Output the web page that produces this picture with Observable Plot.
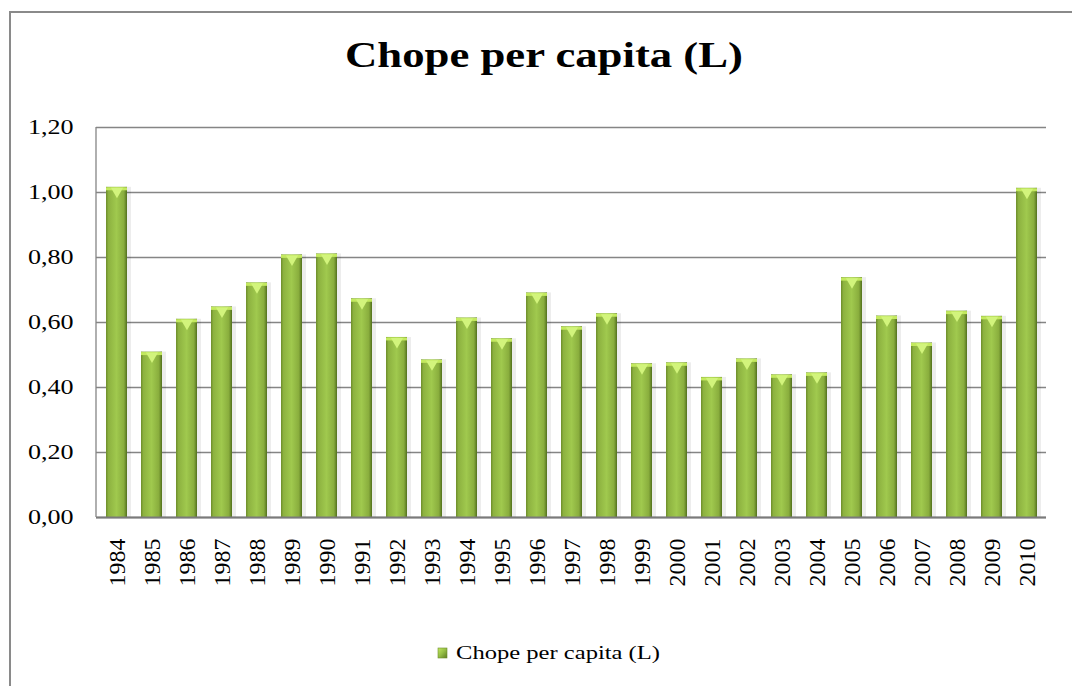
<!DOCTYPE html>
<html><head><meta charset="utf-8">
<script src="https://cdn.jsdelivr.net/npm/d3@7"></script>
<script src="https://cdn.jsdelivr.net/npm/@observablehq/plot@0.6"></script>
<style>
body{margin:0;background:#fff;}
#wrap{position:relative;width:1072px;height:686px;overflow:hidden;font-family:"Liberation Serif","Times New Roman",serif;background:#fff;}
#frame{position:absolute;left:9px;top:11px;width:1100px;height:700px;border-left:2px solid #8a8a8a;border-top:2px solid #8a8a8a;}
#wrap svg{position:absolute;left:0;}
</style></head><body>
<div id="wrap"><div id="frame"></div></div>
<script>
const years = [1984,1985,1986,1987,1988,1989,1990,1991,1992,1993,1994,1995,1996,1997,1998,1999,2000,2001,2002,2003,2004,2005,2006,2007,2008,2009,2010];
const values = [1.016,0.509,0.610,0.648,0.722,0.808,0.811,0.673,0.554,0.485,0.614,0.550,0.691,0.587,0.627,0.473,0.476,0.431,0.488,0.439,0.445,0.738,0.620,0.537,0.635,0.619,1.013];
const yTicks = [0,0.2,0.4,0.6,0.8,1.0,1.2];
const titleText = "Chope per capita (L)";
const seriesName = "Chope per capita (L)";

const data = years.map((y,i)=>({year:String(y), value:values[i]}));
const fmt = d => d.toFixed(2).replace(".", ",");
const serif = '"Liberation Serif","Times New Roman",serif';

const chart = Plot.plot({
  width:1072, height:600,
  marginTop:127, marginBottom:83, marginLeft:96, marginRight:26,
  style:{fontFamily:serif, fontSize:"20px", color:"#000", background:"transparent", overflow:"visible"},
  x:{domain:data.map(d=>d.year), paddingInner:0.4, paddingOuter:0.2, label:null},
  y:{domain:[0,1.2], label:null},
  marks:[
    Plot.gridY(yTicks,{stroke:"#858585", strokeOpacity:1, strokeWidth:1.3}),
    Plot.barY(data,{x:"year", y:"value", fill:"#000", fillOpacity:0.07, dx:4}),
    Plot.barY(data,{x:"year", y:"value", fill:"url(#barGrad)"}),
    Plot.tickY(data,{x:"year", y:"value", stroke:"#c3e95f", strokeWidth:3, dy:1.5}),
    Plot.dot(data,{x:"year", y:"value", symbol:"triangle", r:4.5, rotate:180, fill:"#d2f47c", stroke:null, dy:4}),
    Plot.ruleY([0],{stroke:"#7a7a7a", strokeWidth:2}),
    Plot.axisY({ticks:yTicks, tickFormat:fmt, tickSize:0, tickPadding:23, fontSize:20.5, label:null}),
    Plot.axisX({tickRotate:-90, tickSize:0, tickPadding:21, fontSize:24, label:null})
  ]
});
chart.style.top = "0px";
const wrap = document.getElementById("wrap");
wrap.appendChild(chart);

const svg = d3.select(chart);
svg.insert("defs",":first-child").html(`
<linearGradient id="barGrad" x1="0" x2="1" y1="0" y2="0">
  <stop offset="0" stop-color="#6d8d2b"/>
  <stop offset="0.12" stop-color="#8db240"/>
  <stop offset="0.5" stop-color="#a0c94e"/>
  <stop offset="0.85" stop-color="#89ad3d"/>
  <stop offset="1" stop-color="#52701d"/>
</linearGradient>`);
// left axis line of the plot frame
const ys = chart.scale("y");
svg.append("line").attr("x1",96).attr("x2",96)
  .attr("y1",ys.apply(1.2)).attr("y2",ys.apply(0))
  .attr("stroke","#858585").attr("stroke-width",1.3);

// horizontally stretched y tick labels
svg.selectAll('g[aria-label="y-axis tick label"] text').each(function(){
  const w = this.getComputedTextLength();
  this.setAttribute("textLength", (w*1.27).toFixed(1));
  this.setAttribute("lengthAdjust","spacingAndGlyphs");
});

// title
const tsvg = d3.select(wrap).append("svg").attr("width",1072).attr("height",100).style("top","0px");
tsvg.append("text").attr("x",345).attr("y",67)
  .attr("font-family",serif).attr("font-size",35).attr("font-weight","bold")
  .attr("textLength",398).attr("lengthAdjust","spacingAndGlyphs").text(titleText);

// legend
const lsvg = d3.select(wrap).append("svg").attr("width",1072).attr("height",50).style("top","630px");
const lg = lsvg.append("defs").append("linearGradient").attr("id","swGrad").attr("x1",0).attr("x2",1).attr("y1",0).attr("y2",1);
lg.append("stop").attr("offset",0).attr("stop-color","#c3e95f");
lg.append("stop").attr("offset",0.5).attr("stop-color","#94bd45");
lg.append("stop").attr("offset",1).attr("stop-color","#5d7c22");
lsvg.append("rect").attr("x",438).attr("y",18).attr("width",9).attr("height",10).attr("fill","url(#swGrad)").attr("stroke","#6d8d2b").attr("stroke-width",0.6);
lsvg.append("text").attr("x",456).attr("y",28.5)
  .attr("font-family",serif).attr("font-size",19)
  .attr("textLength",204).attr("lengthAdjust","spacingAndGlyphs").text(seriesName);
</script>
</body></html>
